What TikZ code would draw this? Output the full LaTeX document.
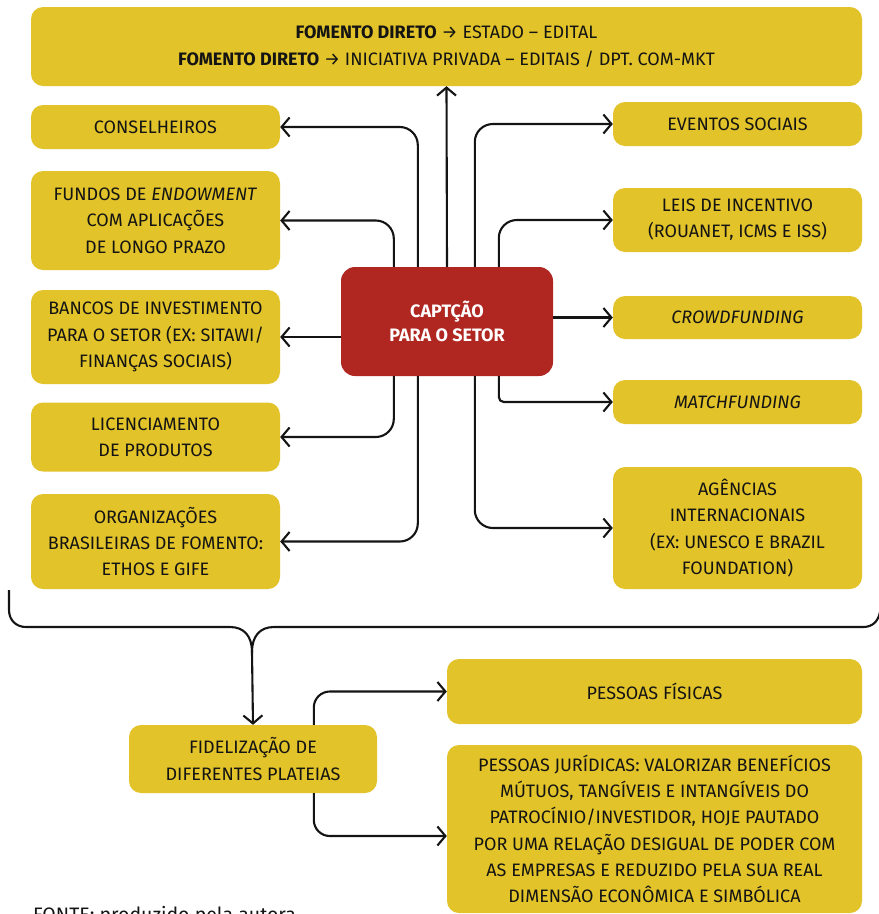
\documentclass[tikz,border=0pt]{standalone}
\usepackage{fontspec}
\setmainfont{Fira Sans}
\usetikzlibrary{arrows.meta,calc}
\definecolor{boxyellow}{RGB}{226,195,41}
\definecolor{boxred}{RGB}{176,38,33}
\definecolor{ink}{RGB}{20,20,20}
\tikzset{
  box/.style={fill=boxyellow, rounded corners=12pt, align=center, inner sep=0pt,
    text=ink, font=\fontsize{18}{26.3}\selectfont},
  leftbox/.style={box, minimum width=249pt},
  rightbox/.style={box, minimum width=249pt},
  hub/.style={fill=boxred, rounded corners=14pt, align=center, inner sep=0pt,
    text=white, font=\bfseries\fontsize{18}{24.5}\selectfont,
    minimum width=212pt, minimum height=109pt},
  link/.style={draw=ink, line width=2.1pt},
  arr/.style={link, -{Straight Barb[length=8pt,width=19pt,line width=2.1pt]}},
}
\begin{document}
\begin{tikzpicture}[x=1pt,y=-1pt]
\useasboundingbox (0,0) rectangle (879,914);

% direct funding banner
\node[box, minimum width=831pt, minimum height=79pt] (top) at (446.5,46.5)
  {\textbf{FOMENTO DIRETO} → ESTADO – EDITAL\\
   \textbf{FOMENTO DIRETO} → INICIATIVA PRIVADA – EDITAIS / DPT. COM-MKT};

% central hub
\node[hub] (hub) at (447,321.5) {CAPTÇÃO\\PARA O SETOR};

% left column
\node[leftbox, minimum height=44pt] (cons) at (155.5,127) {CONSELHEIROS};
\node[leftbox, minimum height=99pt] (fundos) at (155.5,220.5)
  {FUNDOS DE \textit{ENDOWMENT}\\COM APLICAÇÕES\\DE LONGO PRAZO};
\node[leftbox, minimum height=94pt] (bancos) at (155.5,337)
  {BANCOS DE INVESTIMENTO\\PARA O SETOR (EX: SITAWI/\\FINANÇAS SOCIAIS)};
\node[leftbox, minimum height=69pt] (lic) at (155.5,437)
  {LICENCIAMENTO\\DE PRODUTOS};
\node[leftbox, minimum height=95pt] (org) at (155.5,541.5)
  {ORGANIZAÇÕES\\BRASILEIRAS DE FOMENTO:\\ETHOS E GIFE};

% right column
\node[rightbox, minimum height=44pt] (event) at (737.5,124) {EVENTOS SOCIAIS};
\node[rightbox, minimum height=64pt] (leis) at (737.5,220)
  {LEIS DE INCENTIVO\\(ROUANET, ICMS E ISS)};
\node[rightbox, minimum height=43pt] (crowd) at (737.5,317.5) {\textit{CROWDFUNDING}};
\node[rightbox, minimum height=44pt] (match) at (737.5,402) {\textit{MATCHFUNDING}};
\node[rightbox, minimum height=122pt] (agen) at (737.5,528)
  {AGÊNCIAS\\INTERNACIONAIS\\(EX: UNESCO E BRAZIL\\FOUNDATION)};

% audiences
\node[box, minimum width=248pt, minimum height=68pt] (fidel) at (253,759)
  {FIDELIZAÇÃO DE\\DIFERENTES PLATEIAS};
\node[box, minimum width=415pt, minimum height=65pt] (pfis) at (654.5,691.5)
  {PESSOAS FÍSICAS};
\node[box, minimum width=415pt, minimum height=168pt] (pjur) at (654.5,829)
  {PESSOAS JURÍDICAS: VALORIZAR BENEFÍCIOS\\
   MÚTUOS, TANGÍVEIS E INTANGÍVEIS DO\\
   PATROCÍNIO/INVESTIDOR, HOJE PAUTADO\\
   POR UMA RELAÇÃO DESIGUAL DE PODER COM\\
   AS EMPRESAS E REDUZIDO PELA SUA REAL\\
   DIMENSÃO ECONÔMICA E SIMBÓLICA};

% hub connectors
\draw[arr] (hub.north) -- (top.south);
\draw[arr, rounded corners=18pt] ($(hub.north west)+(77,0)$) |- (cons.east);
\draw[arr, rounded corners=18pt] ($(hub.north west)+(53,0)$) |- (fundos.east);
\draw[arr] (hub.west |- bancos.east) -- (bancos.east);
\draw[arr, rounded corners=18pt] ($(hub.south west)+(53,0)$) |- (lic.east);
\draw[arr, rounded corners=18pt] ($(hub.south west)+(77,0)$) |- (org.east);
\draw[arr, rounded corners=18pt] ($(hub.north west)+(134,0)$) |- (event.west);
\draw[arr, rounded corners=18pt] ($(hub.north west)+(158,0)$) |- (leis.west);
\draw[arr] (hub.east |- crowd.west) -- (crowd.west);
\draw[arr, rounded corners=5pt] ($(hub.south west)+(158,0)$) |- (match.west);
\draw[arr, rounded corners=18pt] ($(hub.south west)+(134,0)$) |- (agen.west);

% gathering brace
\coordinate (tip) at (252,652);
\draw[link] (9,590) -- (9,610) .. controls (9,620) and (16,627) .. (26,627)
  -- (230,627) .. controls (244,627) and (252,636) .. (tip);
\draw[link] (880,612) .. controls (878,622) and (872,627) .. (863,627)
  -- (274,627) .. controls (260,627) and (252,636) .. (tip);
\draw[arr] (tip) -- (fidel.north);

% audience connectors
\draw[arr, rounded corners=16pt] ($(fidel.north west)+(185,0)$) |- (pfis.west);
\draw[arr, rounded corners=16pt] ($(fidel.south west)+(185,0)$) |- ($(pjur.west)+(0,7)$);

% source line
\node[anchor=base west, inner sep=0pt, text=ink, font=\fontsize{19.5}{22}\selectfont]
  (fonte) at (33,921) {FONTE: produzido pela autora};
\end{tikzpicture}
\end{document}
